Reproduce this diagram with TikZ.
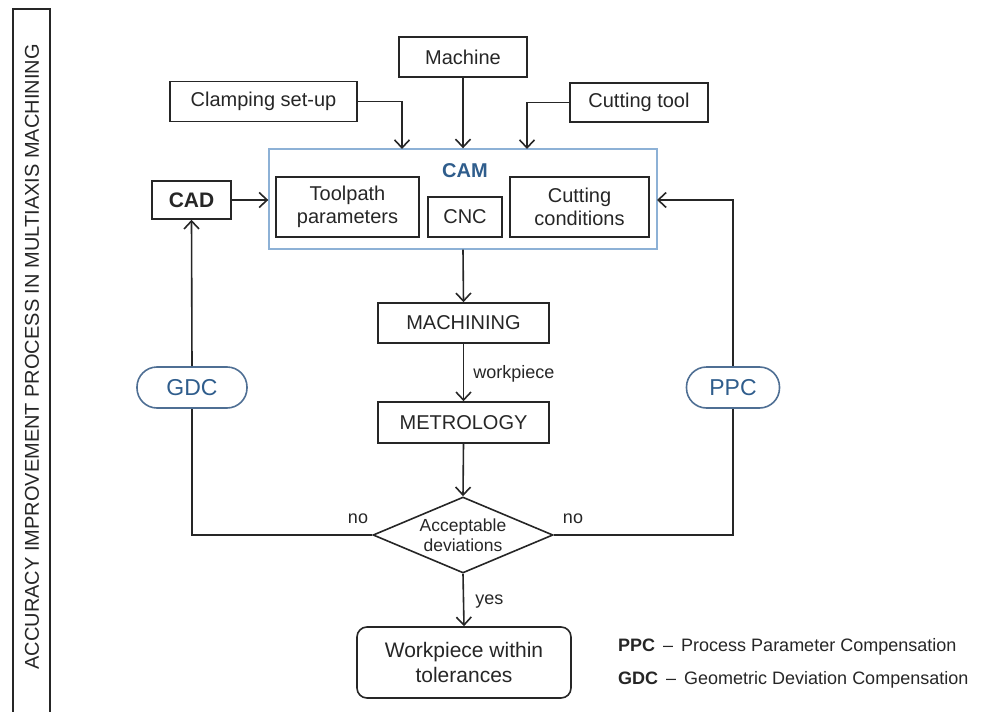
\documentclass[tikz,border=0pt]{standalone}
\usepackage{fontspec}
\setmainfont{Liberation Sans}
\usetikzlibrary{arrows.meta,shapes.geometric,calc}
\definecolor{ink}{HTML}{262626}
\definecolor{camblue}{HTML}{2F5D8C}
\definecolor{camframe}{HTML}{8DB1D6}
\definecolor{pillframe}{HTML}{4F6F94}
\begin{document}
\begin{tikzpicture}[x=1pt,y=-1pt,
  every node/.style={text=ink},
  box/.style={draw=ink,line width=1.6pt,inner sep=0pt,align=center,font=\fontsize{20}{23}\selectfont},
  pill/.style={draw=pillframe,line width=1.6pt,rounded corners=20pt,inner sep=0pt,text=camblue,font=\fontsize{23}{26}\selectfont},
  lbl/.style={font=\fontsize{18}{21}\selectfont,inner sep=0pt},
  arr/.style={draw=ink,line width=1.6pt,-{Straight Barb[length=8pt,width=15pt,line width=1.6pt]}},
  ln/.style={draw=ink,line width=1.6pt}]
\useasboundingbox (0,0) rectangle (986,712);
% title frame
\draw[ink,line width=1.6pt] (13,715) -- (13,9) -- (50,9) -- (50,715);
\node[rotate=90,font=\fontsize{20}{23}\selectfont] (title) at (32,357) {ACCURACY IMPROVEMENT PROCESS IN MULTIAXIS MACHINING};
% top inputs
\node[box,minimum width=128pt,minimum height=40pt] (machine) at (463,57) {Machine};
\node[box,minimum width=187pt,minimum height=40pt] (clamp) at (263.5,101.5) {Clamping set-up};
\node[box,minimum width=138pt,minimum height=39pt] (tool) at (639,102.5) {Cutting tool};
% CAM
\node[draw=camframe,line width=1.4pt,minimum width=388pt,minimum height=100pt,inner sep=0pt] (cam) at (463,199) {};
\node[font=\bfseries\fontsize{20}{23}\selectfont,text=camblue,inner sep=0pt] (camlbl) at (465,171) {CAM};
\node[box,minimum width=143pt,minimum height=60pt] (toolpath) at (347.5,207) {Toolpath\\parameters};
\node[box,minimum width=74pt,minimum height=40pt] (cnc) at (465,217) {CNC};
\node[box,minimum width=139pt,minimum height=60pt] (cond) at (579.5,207) {Cutting\\conditions};
\node[box,minimum width=79pt,minimum height=38pt,font=\bfseries\fontsize{21}{24}\selectfont] (cad) at (191.5,200) {CAD};
\coordinate (camin1) at (402,149);
\coordinate (camin3) at (527,149);
\coordinate (camin4) at (657,200);
% process
\node[box,minimum width=171pt,minimum height=40pt] (mach) at (463.5,323) {MACHINING};
\node[box,minimum width=171pt,minimum height=41pt] (metro) at (463.5,422.5) {METROLOGY};
\node[draw=ink,line width=1.6pt,diamond,aspect=2.37,inner sep=0pt,minimum width=180pt,minimum height=76pt,align=center,font=\fontsize{17.5}{20.5}\selectfont] (dec) at (463,535) {Acceptable\\deviations};
\node[box,rounded corners=10pt,minimum width=214pt,minimum height=71pt,font=\fontsize{21}{25}\selectfont] (ok) at (464,662.5) {Workpiece within\\tolerances};
% compensation
\node[pill,minimum width=110pt,minimum height=41pt] (gdc) at (192,387.5) {GDC};
\node[pill,minimum width=93pt,minimum height=41pt] (ppc) at (733,387.5) {PPC};
% connectors
\draw[arr] (machine.south) -- (machine.south |- cam.north);
\draw[arr] (clamp.east) -| (camin1);
\draw[arr] (tool.west) -| (camin3);
\draw[arr] (cad.east) -- (cad.east -| cam.west);
\draw[arr] (cam.south) -- (mach.north);
\draw[arr] (mach.south) -- node[lbl,anchor=west,xshift=9pt,yshift=-1pt] (wp) {workpiece} (metro.north);
\draw[arr] (metro.south) -- (dec.north);
\draw[arr] (dec.south) -- node[lbl,anchor=west,xshift=11pt,yshift=-2pt] (yes) {yes} (ok.north);
\draw[ln] (dec.west) -| (gdc.south);
\draw[arr] (gdc.north) -- (cad.south);
\draw[ln] (dec.east) -| (ppc.south);
\draw[arr] (ppc.north) |- (camin4);
\node[lbl] (nol) at (358,519) {no};
\node[lbl] (nor) at (573,519) {no};
% legend
\node[lbl,anchor=west] (leg1) at (618,647) {\textbf{PPC} \,–\, Process Parameter Compensation};
\node[lbl,anchor=west] (leg2) at (618,680) {\textbf{GDC} \,–\, Geometric Deviation Compensation};
\end{tikzpicture}
\end{document}
